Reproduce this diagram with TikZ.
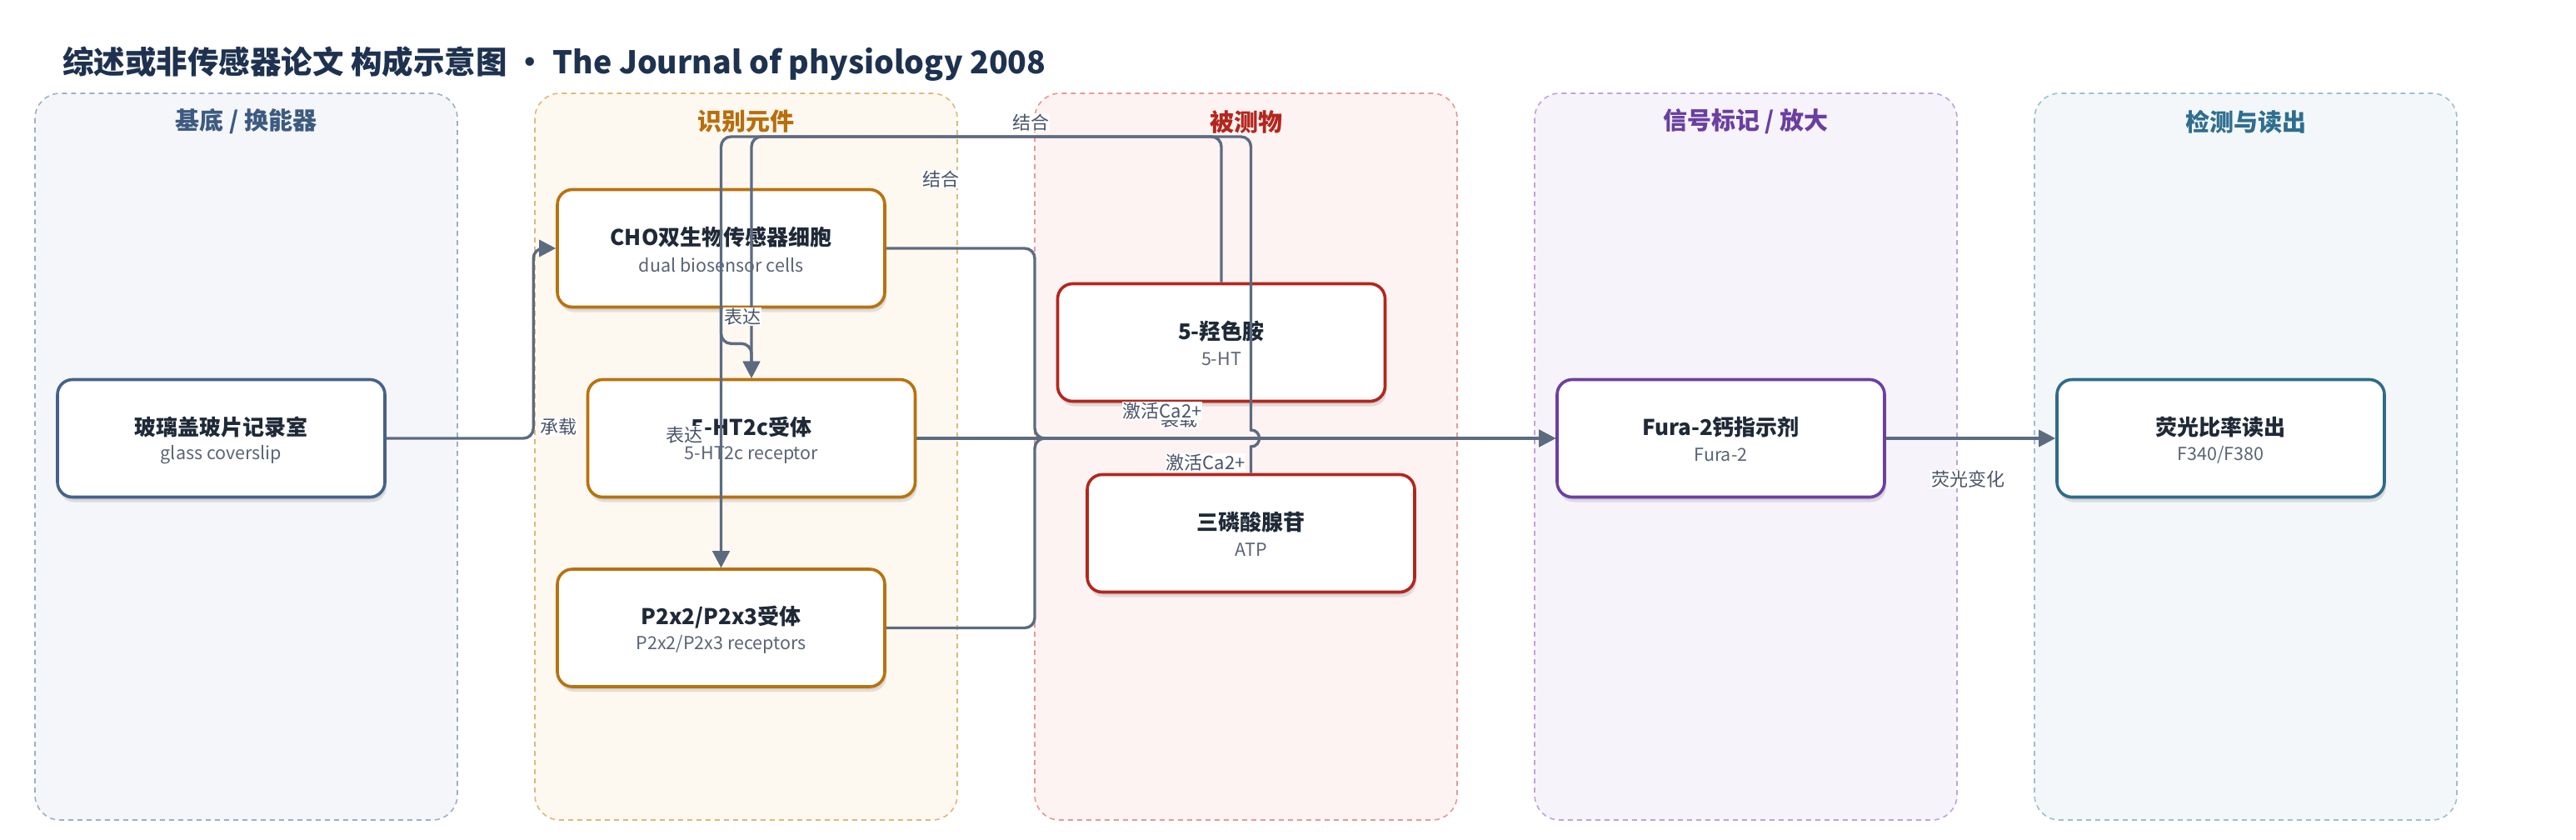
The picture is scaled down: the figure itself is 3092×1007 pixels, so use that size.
\documentclass[tikz,border=0pt]{standalone}
\usepackage{fontspec}
\setmainfont{Noto Sans CJK SC}
\usetikzlibrary{arrows.meta,shadows,calc}
\definecolor{titlec}{HTML}{1E3250}
\definecolor{laneAf}{HTML}{F4F6FA}\definecolor{laneAb}{HTML}{9EAFC6}\definecolor{laneAt}{HTML}{3D5A80}
\definecolor{laneBf}{HTML}{FDF8F0}\definecolor{laneBb}{HTML}{E0B877}\definecolor{laneBt}{HTML}{B86E0C}
\definecolor{laneCf}{HTML}{FDF3F2}\definecolor{laneCb}{HTML}{E49A96}\definecolor{laneCt}{HTML}{B3261E}
\definecolor{laneDf}{HTML}{F6F3FA}\definecolor{laneDb}{HTML}{BFA3DA}\definecolor{laneDt}{HTML}{6A3FA0}
\definecolor{laneEf}{HTML}{F3F7F9}\definecolor{laneEb}{HTML}{9DC0CE}\definecolor{laneEt}{HTML}{2E6E8E}
\definecolor{nblue}{HTML}{46618A}\definecolor{norange}{HTML}{B8720F}\definecolor{nred}{HTML}{B3261E}
\definecolor{npurple}{HTML}{6C3FA2}\definecolor{nteal}{HTML}{2F6B8A}
\definecolor{ntext}{HTML}{1F2937}\definecolor{nsubc}{HTML}{5B6475}
\definecolor{edgec}{HTML}{5C6B80}\definecolor{labc}{HTML}{4A5568}
\newcommand{\boxnode}[6]{%
  \node[nodebox, draw=#4] (#1) at (#2,#3) {};
  \node[ntitle] (#1-t) at ($(#1.center)+(0,-13)$) {#5};
  \node[nsub] (#1-s) at ($(#1.center)+(0,20)$) {#6};
}
\begin{document}
\begin{tikzpicture}[x=1pt,y=-1pt,
  lane/.style={dashed, dash pattern=on 6pt off 5pt, line width=1.6pt, rounded corners=30pt},
  lanetitle/.style={font=\fontsize{29}{34}\selectfont\bfseries, inner sep=0pt},
  nodebox/.style={rounded corners=18pt, line width=3.6pt, fill=white, minimum width=393pt, minimum height=141pt, inner sep=0pt,
     drop shadow={shadow xshift=2pt, shadow yshift=-6pt, opacity=0.10, fill=black},
     drop shadow={shadow xshift=1pt, shadow yshift=-3pt, opacity=0.08, fill=black}},
  ntitle/.style={font=\fontsize{26}{30}\selectfont\bfseries, text=ntext, inner sep=0pt},
  nsub/.style={font=\fontsize{21.5}{25}\selectfont, text=nsubc, inner sep=0pt},
  edge/.style={draw=edgec, line width=3.4pt, rounded corners=12pt},
  arr/.style={-{Triangle[length=20pt,width=20pt]}},
  lab/.style={font=\fontsize{22}{26}\selectfont, text=labc, fill=white, inner sep=1pt}]
\useasboundingbox (0,0) rectangle (3092,1007);
\fill[white] (0,0) rectangle (3092,1007);
% title
\node[anchor=west, font=\fontsize{37.5}{42}\selectfont\bfseries, text=titlec, inner sep=0pt] (title) at (75,77)
  {综述或非传感器论文 构成示意图 · The Journal of physiology 2008};
% lanes
\draw[lane, draw=laneAb, fill=laneAf] (42,112) rectangle (549,984);
\draw[lane, draw=laneBb, fill=laneBf] (642,112) rectangle (1149,984);
\draw[lane, draw=laneCb, fill=laneCf] (1242,112) rectangle (1749,984);
\draw[lane, draw=laneDb, fill=laneDf] (1842,112) rectangle (2349,984);
\draw[lane, draw=laneEb, fill=laneEf] (2442,112) rectangle (2949,984);
\node[lanetitle, text=laneAt] (tA) at (295.5,146) {基底 / 换能器};
\node[lanetitle, text=laneBt] (tB) at (895.5,146) {识别元件};
\node[lanetitle, text=laneCt] (tC) at (1495.5,146) {被测物};
\node[lanetitle, text=laneDt] (tD) at (2095.5,146) {信号标记 / 放大};
\node[lanetitle, text=laneEt] (tE) at (2695.5,146) {检测与读出};
% nodes
\boxnode{glass}{265.5}{526}{nblue}{玻璃盖玻片记录室}{glass coverslip}
\boxnode{cho}{865.5}{298}{norange}{CHO双生物传感器细胞}{dual biosensor cells}
\boxnode{ht2c}{902}{526}{norange}{5-HT2c受体}{5-HT2c receptor}
\boxnode{p2x}{865.5}{753.5}{norange}{P2x2/P2x3受体}{P2x2/P2x3 receptors}
\boxnode{sht}{1466}{411}{nred}{5-羟色胺}{5-HT}
\boxnode{atp}{1501.5}{640}{nred}{三磷酸腺苷}{ATP}
\boxnode{fura}{2065.5}{526}{npurple}{Fura-2钙指示剂}{Fura-2}
\boxnode{read}{2665.5}{526}{nteal}{荧光比率读出}{F340/F380}
% helper coordinates
\coordinate (topy) at (0,164);
\coordinate (c1) at ($(cho.west)+(-27,0)$);
\coordinate (bus) at (1242,526);
\coordinate (hop) at (atp.north |- ht2c.east);
% edges
\draw[edge, arr] (glass.east) -| (c1) -- (cho.west);
\draw[edge, arr] (cho.south) -- ++(0,42) -| (ht2c.north);
\draw[edge, arr] (cho.south) -- (p2x.north);
\draw[edge, arr] (sht.north) -- (sht.north |- topy) -| (ht2c.north);
\draw[edge, arr] (ht2c.east) -- (fura.west);
\draw[edge, arr] (cho.east) -| (bus) -- (fura.west);
\draw[edge, arr] (p2x.east) -| (bus) -- (fura.west);
\draw[edge, arr] (atp.north) [sharp corners] -- ($(hop)+(0,10)$)
   .. controls ($(hop)+(13.3,10)$) and ($(hop)+(13.3,-10)$) .. ($(hop)+(0,-10)$)
   [rounded corners=12pt] -- (atp.north |- topy) -| (p2x.north);
\draw[edge, arr] (fura.east) -- (read.west);
% labels
\node[lab] (l1) at (670,512) {承载};
\node[lab] (l2) at (891,380) {表达};
\node[lab] (l3) at (821,522) {表达};
\node[lab] (l4) at (1129,215) {结合};
\node[lab] (l5) at (1237,147) {结合};
\node[lab] (l6) at (1415,503) {装载};
\node[lab] (l7) at (1395,493) {激活Ca2+};
\node[lab] (l8) at (1447,555) {激活Ca2+};
\node[lab] (l9) at (2362,575) {荧光变化};
\end{tikzpicture}
\end{document}
